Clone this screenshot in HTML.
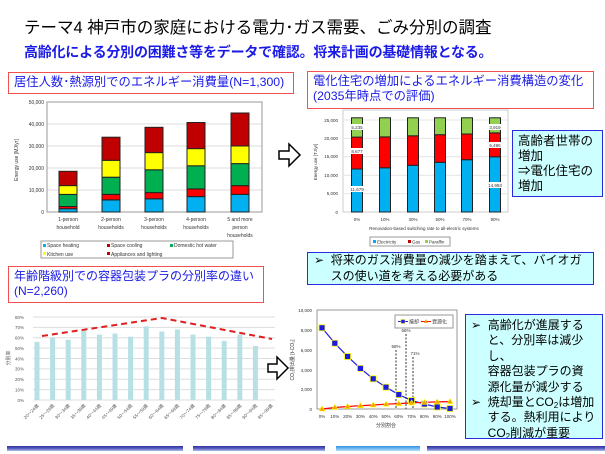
<!DOCTYPE html>
<html><head><meta charset="utf-8"><style>
body{margin:0;width:605px;height:454px;background:#fff;position:relative;overflow:hidden;font-family:"Liberation Sans","Noto Sans CJK JP",sans-serif}
.a{position:absolute;box-sizing:border-box;white-space:nowrap;overflow:hidden}
.rb{border:1.5px solid #f05050;color:#1a1ae6;font-size:12px;line-height:15px;padding:2px 5px;background:#fff}
.cb{border:1.5px solid #2a2ae0;background:#ccffff;color:#000;font-size:13px;line-height:16px}
sub{font-size:8px;line-height:0;vertical-align:-2px}
svg{position:absolute;left:0;top:0}
</style></head><body>
<div class="a" style="left:24px;top:14px;font-size:16.5px;color:#000">テーマ4 神戸市の家庭における電力･ガス需要、ごみ分別の調査</div>
<div class="a" style="left:24px;top:42px;font-size:14px;font-weight:bold;color:#1a1ae6;letter-spacing:-0.2px">高齢化による分別の困難さ等をデータで確認。将来計画の基礎情報となる。</div>
<div class="a rb" style="left:8px;top:72px;width:286px;height:22px;font-size:12.3px">居住人数･熱源別でのエネルギー消費量(N=1,300)</div>
<div class="a rb" style="left:307px;top:71px;width:287px;height:38px;font-size:12.3px">電化住宅の増加によるエネルギー消費構造の変化<br>(2035年時点での評価)</div>
<div class="a rb" style="left:8px;top:266px;width:256px;height:37px;font-size:12px">年齢階級別での容器包装プラの分別率の違い<br>(N=2,260)</div>
<div class="a cb" style="left:512px;top:130px;width:91px;height:67px;padding:3px 5px;line-height:15px;font-size:12.5px">高齢者世帯の<br>増加<br>⇒電化住宅の<br>増加</div>
<div class="a cb" style="left:307px;top:252px;width:287px;height:33px;padding:0 6px;line-height:15.5px;font-size:12px">➢&nbsp; 将来のガス消費量の減少を踏まえて、バイオガ<br>&nbsp;&nbsp;&nbsp;&nbsp;&nbsp;スの使い道を考える必要がある</div>
<div class="a cb" style="left:465px;top:314px;width:138px;height:125px;padding:3px 5px;font-size:12px;line-height:15.4px">➢&nbsp; 高齢化が進展する<br>&nbsp;&nbsp;&nbsp;&nbsp;&nbsp;と、分別率は減少<br>&nbsp;&nbsp;&nbsp;&nbsp;&nbsp;し、<br>&nbsp;&nbsp;&nbsp;&nbsp;&nbsp;容器包装プラの資<br>&nbsp;&nbsp;&nbsp;&nbsp;&nbsp;源化量が減少する<br>➢&nbsp; 焼却量とCO<sub>2</sub>は増加<br>&nbsp;&nbsp;&nbsp;&nbsp;&nbsp;する。熱利用により<br>&nbsp;&nbsp;&nbsp;&nbsp;&nbsp;CO<sub>2</sub>削減が重要</div>
<svg width="605" height="454" font-family="Liberation Sans, Noto Sans CJK JP, sans-serif">
<!-- chart1 -->
<g stroke="#ddd" stroke-width="1"><line x1="47" y1="190" x2="262" y2="190"/><line x1="47" y1="168" x2="262" y2="168"/><line x1="47" y1="146" x2="262" y2="146"/><line x1="47" y1="124" x2="262" y2="124"/><line x1="47" y1="102" x2="262" y2="102"/></g>
<rect x="47" y="102" width="215" height="110" fill="none" stroke="#999"/>
<g font-size="5" fill="#333" text-anchor="end"><text x="44" y="214">0</text><text x="44" y="192">10,000</text><text x="44" y="170">20,000</text><text x="44" y="148">30,000</text><text x="44" y="126">40,000</text><text x="44" y="104">50,000</text></g>
<text transform="translate(18,160) rotate(-90)" font-size="5" text-anchor="middle" fill="#333">Energy use [MJ/yr]</text>
<g stroke="#222" stroke-width="1">
<rect x="59" y="208.7" width="18" height="3.3" fill="#00b0f0"/><rect x="59" y="206.5" width="18" height="2.2" fill="#f00"/><rect x="59" y="194.4" width="18" height="12.1" fill="#00b050"/><rect x="59" y="185.6" width="18" height="8.8" fill="#ff0"/><rect x="59" y="171.3" width="18" height="14.3" fill="#c00000"/>
<rect x="102" y="199.9" width="18" height="12.1" fill="#00b0f0"/><rect x="102" y="194.4" width="18" height="5.5" fill="#f00"/><rect x="102" y="177.2" width="18" height="17.2" fill="#00b050"/><rect x="102" y="160.3" width="18" height="16.9" fill="#ff0"/><rect x="102" y="137.2" width="18" height="23.1" fill="#c00000"/>
<rect x="145" y="198.8" width="18" height="13.2" fill="#00b0f0"/><rect x="145" y="192.6" width="18" height="6.2" fill="#f00"/><rect x="145" y="169.8" width="18" height="22.8" fill="#00b050"/><rect x="145" y="152.6" width="18" height="17.2" fill="#ff0"/><rect x="145" y="127.3" width="18" height="25.3" fill="#c00000"/>
<rect x="187" y="196.6" width="18" height="15.4" fill="#00b0f0"/><rect x="187" y="188.9" width="18" height="7.7" fill="#f00"/><rect x="187" y="165.8" width="18" height="23.1" fill="#00b050"/><rect x="187" y="148.6" width="18" height="17.2" fill="#ff0"/><rect x="187" y="122.5" width="18" height="26.1" fill="#c00000"/>
<rect x="231" y="194.4" width="18" height="17.6" fill="#00b0f0"/><rect x="231" y="185.6" width="18" height="8.8" fill="#f00"/><rect x="231" y="163.6" width="18" height="22" fill="#00b050"/><rect x="231" y="146" width="18" height="17.6" fill="#ff0"/><rect x="231" y="113" width="18" height="33" fill="#c00000"/>
</g>
<g font-size="5" fill="#333" text-anchor="middle">
<text x="68" y="221">1-person</text><text x="68" y="229">household</text>
<text x="111" y="221">2-person</text><text x="111" y="229">households</text>
<text x="154" y="221">3-person</text><text x="154" y="229">households</text>
<text x="196" y="221">4-person</text><text x="196" y="229">households</text>
<text x="240" y="221">5 and more</text><text x="240" y="229">person</text><text x="240" y="237">households</text></g>
<rect x="41" y="241" width="192" height="17" fill="#fff" stroke="#999"/>
<g font-size="5" fill="#333"><rect x="43" y="244" width="3" height="3" fill="#00b0f0"/><text x="47" y="247">Space heating</text><rect x="107" y="244" width="3" height="3" fill="#c00000"/><text x="111" y="247">Space cooling</text><rect x="170" y="244" width="3" height="3" fill="#00b050"/><text x="174" y="247">Domestic hot water</text><rect x="43" y="252" width="3" height="3" fill="#ff0"/><text x="47" y="256">Kitchen use</text><rect x="107" y="252" width="3" height="3" fill="#c00000"/><text x="111" y="256">Appliances and lighting</text></g>
<path d="M279,151 h10 v-7 l11,11 l-11,11 v-7 h-10 z" fill="#fff" stroke="#000" stroke-width="1.5"/>
<!-- chart2 -->
<rect x="343" y="110" width="165" height="102" fill="#fff" stroke="#ccc"/>
<g stroke="#e4e4e4"><line x1="343" y1="193.6" x2="508" y2="193.6"/><line x1="343" y1="175.2" x2="508" y2="175.2"/><line x1="343" y1="156.8" x2="508" y2="156.8"/><line x1="343" y1="138.4" x2="508" y2="138.4"/><line x1="343" y1="120" x2="508" y2="120"/></g>
<g font-size="4.5" fill="#333" text-anchor="end"><text x="338" y="214">0</text><text x="338" y="195">5,000</text><text x="338" y="177">10,000</text><text x="338" y="158">15,000</text><text x="338" y="140">20,000</text><text x="338" y="122">25,000</text></g>
<text transform="translate(317,162) rotate(-90)" font-size="4.5" text-anchor="middle" fill="#333">Energy use [TJ/yr]</text>
<g stroke="#222" stroke-width="1">
<rect x="351.5" y="169" width="11" height="43" fill="#00b0f0"/><rect x="351.5" y="137.1" width="11" height="31.9" fill="#f00"/><rect x="351.5" y="117.8" width="11" height="19.3" fill="#92d050"/>
<rect x="379.5" y="167.8" width="11" height="44.2" fill="#00b0f0"/><rect x="379.5" y="136.9" width="11" height="30.9" fill="#f00"/><rect x="379.5" y="117.8" width="11" height="19.1" fill="#92d050"/>
<rect x="407.5" y="165.3" width="11" height="46.7" fill="#00b0f0"/><rect x="407.5" y="135.8" width="11" height="29.5" fill="#f00"/><rect x="407.5" y="117.8" width="11" height="18" fill="#92d050"/>
<rect x="434.5" y="162.3" width="11" height="49.7" fill="#00b0f0"/><rect x="434.5" y="134.7" width="11" height="27.6" fill="#f00"/><rect x="434.5" y="117.8" width="11" height="16.9" fill="#92d050"/>
<rect x="461.5" y="159.7" width="11" height="52.3" fill="#00b0f0"/><rect x="461.5" y="134" width="11" height="25.7" fill="#f00"/><rect x="461.5" y="117.8" width="11" height="16.2" fill="#92d050"/>
<rect x="489.5" y="156.8" width="11" height="55.2" fill="#00b0f0"/><rect x="489.5" y="132.9" width="11" height="23.9" fill="#f00"/><rect x="489.5" y="117.8" width="11" height="15.1" fill="#92d050"/>
</g>
<g font-size="4.5" fill="#333" text-anchor="middle">
<rect x="349" y="124" width="16" height="6" fill="#fff"/><text x="357" y="129">5,235</text>
<rect x="349" y="148" width="16" height="6" fill="#fff"/><text x="357" y="153">8,677</text>
<rect x="348" y="186" width="18" height="6" fill="#fff"/><text x="357" y="191">11,679</text>
<rect x="487" y="124" width="16" height="6" fill="#fff"/><text x="495" y="129">3,919</text>
<rect x="487" y="142" width="16" height="6" fill="#fff"/><text x="495" y="147">6,496</text>
<rect x="486" y="182" width="18" height="6" fill="#fff"/><text x="495" y="187">14,993</text>
<text x="357" y="221">0%</text><text x="385" y="221">10%</text><text x="413" y="221">30%</text><text x="440" y="221">50%</text><text x="467" y="221">70%</text><text x="495" y="221">90%</text>
<text x="424" y="230">Renovation-based switching rate to all-electric systems</text></g>
<rect x="370" y="237" width="80" height="9" fill="#fff" stroke="#999"/>
<g font-size="4.5" fill="#333"><rect x="373" y="240" width="3" height="3" fill="#00b0f0"/><text x="377" y="243.5">Electricity</text><rect x="408" y="240" width="3" height="3" fill="#c00000"/><text x="412" y="243.5">Gas</text><rect x="425" y="240" width="3" height="3" fill="#92d050"/><text x="429" y="243.5">Paraffin</text></g>
<!-- chart3 -->
<g stroke="#ddd"><line x1="33" y1="400" x2="275" y2="400"/><line x1="33" y1="389.6" x2="275" y2="389.6"/><line x1="33" y1="379.3" x2="275" y2="379.3"/><line x1="33" y1="368.9" x2="275" y2="368.9"/><line x1="33" y1="358.5" x2="275" y2="358.5"/><line x1="33" y1="348.1" x2="275" y2="348.1"/><line x1="33" y1="337.8" x2="275" y2="337.8"/><line x1="33" y1="327.4" x2="275" y2="327.4"/><line x1="33" y1="317" x2="275" y2="317"/></g>
<g font-size="4.5" fill="#555" text-anchor="end"><text x="24" y="402">0%</text><text x="24" y="391.5">10%</text><text x="24" y="381">20%</text><text x="24" y="370.5">30%</text><text x="24" y="360.5">40%</text><text x="24" y="350">50%</text><text x="24" y="339.5">60%</text><text x="24" y="329">70%</text><text x="24" y="319">80%</text></g>
<text transform="translate(10,358) rotate(-90)" font-size="5" text-anchor="middle" fill="#555">分別率</text>
<g fill="#b7e0e4">
<rect x="34.5" y="341.9" width="5" height="58.1"/><rect x="50.1" y="337.75" width="5" height="62.25"/><rect x="65.7" y="339.8" width="5" height="60.2"/><rect x="81.3" y="330.5" width="5" height="69.5"/><rect x="96.9" y="334.6" width="5" height="65.4"/><rect x="112.5" y="333.6" width="5" height="66.4"/><rect x="128.1" y="336.7" width="5" height="63.3"/><rect x="143.7" y="326.3" width="5" height="73.7"/><rect x="159.3" y="331.5" width="5" height="68.5"/><rect x="174.9" y="329.5" width="5" height="70.5"/><rect x="190.5" y="334.6" width="5" height="65.4"/><rect x="206.1" y="336.7" width="5" height="63.3"/><rect x="221.7" y="340.9" width="5" height="59.1"/><rect x="237.3" y="334.6" width="5" height="65.4"/><rect x="252.9" y="346" width="5" height="54"/></g>
<polyline points="42,336 162,318 272,339" fill="none" stroke="#e02020" stroke-width="2" stroke-dasharray="6,4"/>
<g font-size="4.5" fill="#555" text-anchor="end">
<text transform="translate(39,406) rotate(-45)">20～24歳</text><text transform="translate(54.6,406) rotate(-45)">25～29歳</text><text transform="translate(70.2,406) rotate(-45)">30～34歳</text><text transform="translate(85.8,406) rotate(-45)">35～39歳</text><text transform="translate(101.4,406) rotate(-45)">40～44歳</text><text transform="translate(117,406) rotate(-45)">45～49歳</text><text transform="translate(132.6,406) rotate(-45)">50～54歳</text><text transform="translate(148.2,406) rotate(-45)">55～59歳</text><text transform="translate(163.8,406) rotate(-45)">60～64歳</text><text transform="translate(179.4,406) rotate(-45)">65～69歳</text><text transform="translate(195,406) rotate(-45)">70～74歳</text><text transform="translate(210.6,406) rotate(-45)">75～79歳</text><text transform="translate(226.2,406) rotate(-45)">80～84歳</text><text transform="translate(241.8,406) rotate(-45)">85～89歳</text><text transform="translate(257.4,406) rotate(-45)">90～94歳</text><text transform="translate(273,406) rotate(-45)">95～99歳</text></g>
<path d="M268,364 h9 v-7 l11,11 l-11,11 v-7 h-9 z" fill="#fff" stroke="#000" stroke-width="1.5"/>
<!-- chart4 -->
<rect x="317" y="310" width="140" height="99" fill="#fff" stroke="#999"/>
<g font-size="4.5" fill="#333" text-anchor="end"><text x="312" y="411">0</text><text x="312" y="391">2,000</text><text x="312" y="372">4,000</text><text x="312" y="352">6,000</text><text x="312" y="332">8,000</text><text x="312" y="312">10,000</text></g>
<text transform="translate(294,360) rotate(-90)" font-size="5" text-anchor="middle" fill="#333">CO₂排出量 [t-CO₂]</text>
<g stroke="#333" stroke-dasharray="2,1.5" stroke-width="1"><line x1="396" y1="350" x2="396" y2="409"/><line x1="406" y1="334" x2="406" y2="409"/><line x1="413" y1="357" x2="413" y2="409"/></g>
<g font-size="4.5" fill="#333" text-anchor="middle"><text x="396" y="348">58%</text><text x="406" y="332">66%</text><text x="415" y="355">71%</text></g>
<polyline points="322,327.8 334.8,343.2 347.6,356.5 360.4,368.4 373.2,378.8 386,387.2 398.8,394.6 411.6,400.6 424.4,404 437.2,407 450,408.5" fill="none" stroke="#2020e0" stroke-width="1.2"/>
<polyline points="322,409 334.8,407.5 347.6,406.5 360.4,405.7 373.2,405 386,404.2 398.8,403.6 411.6,402.9 424.4,402.3 437.2,401.9 450,401.6" fill="none" stroke="#f00" stroke-width="1.2"/>
<g fill="#1a1ae0" stroke="#ff0" stroke-width="0.8">
<rect x="319" y="324.8" width="6" height="6"/><rect x="331.8" y="340.2" width="6" height="6"/><rect x="344.6" y="353.5" width="6" height="6"/><rect x="357.4" y="365.4" width="6" height="6"/><rect x="370.2" y="375.8" width="6" height="6"/><rect x="383" y="384.2" width="6" height="6"/><rect x="395.8" y="391.6" width="6" height="6"/><rect x="408.6" y="397.6" width="6" height="6"/><rect x="421.4" y="401" width="6" height="6"/><rect x="434.2" y="404" width="6" height="6"/><rect x="447" y="405.5" width="6" height="6"/></g>
<g fill="#f4a000" stroke="#ff0" stroke-width="0.6">
<path d="M322,406 l3,5 h-6z"/><path d="M334.8,404.5 l3,5 h-6z"/><path d="M347.6,403.5 l3,5 h-6z"/><path d="M360.4,402.7 l3,5 h-6z"/><path d="M373.2,402 l3,5 h-6z"/><path d="M386,401.2 l3,5 h-6z"/><path d="M398.8,400.6 l3,5 h-6z"/><path d="M411.6,399.9 l3,5 h-6z"/><path d="M424.4,399.3 l3,5 h-6z"/><path d="M437.2,398.9 l3,5 h-6z"/><path d="M450,398.6 l3,5 h-6z"/></g>
<g font-size="4.5" fill="#333" text-anchor="middle"><text x="322" y="418">0%</text><text x="334.8" y="418">10%</text><text x="347.6" y="418">20%</text><text x="360.4" y="418">30%</text><text x="373.2" y="418">40%</text><text x="386" y="418">50%</text><text x="398.8" y="418">60%</text><text x="411.6" y="418">70%</text><text x="424.4" y="418">80%</text><text x="437.2" y="418">90%</text><text x="450" y="418">100%</text><text x="386" y="427" font-size="5">分別割合</text></g>
<rect x="395" y="315" width="58" height="13" fill="#fff" stroke="#999"/>
<line x1="398" y1="321.5" x2="408" y2="321.5" stroke="#2020e0"/><rect x="401" y="319.5" width="4" height="4" fill="#1a1ae0" stroke="#ff0" stroke-width="0.5"/>
<text x="409" y="323.5" font-size="5" fill="#333">焼却</text>
<line x1="421" y1="321.5" x2="431" y2="321.5" stroke="#f00"/><path d="M426,319 l2,4 h-4z" fill="#f4a000"/>
<text x="432" y="323.5" font-size="5" fill="#333">資源化</text>
<!-- bottom bars -->
<defs><linearGradient id="g1" x1="0" y1="0" x2="0" y2="1"><stop offset="0" stop-color="#3030a0"/><stop offset="0.5" stop-color="#5a60c0"/><stop offset="1" stop-color="#b0c0f0"/></linearGradient>
<linearGradient id="g2" x1="0" y1="0" x2="0" y2="1"><stop offset="0" stop-color="#3090e0"/><stop offset="1" stop-color="#b0e0ff"/></linearGradient></defs>
<rect x="7" y="446" width="176" height="5" fill="url(#g1)"/><rect x="193" y="446" width="132" height="5" fill="url(#g1)"/><rect x="336" y="446" width="84" height="5" fill="url(#g2)"/><rect x="427" y="446" width="178" height="5" fill="url(#g1)"/>
</svg>
</body></html>
